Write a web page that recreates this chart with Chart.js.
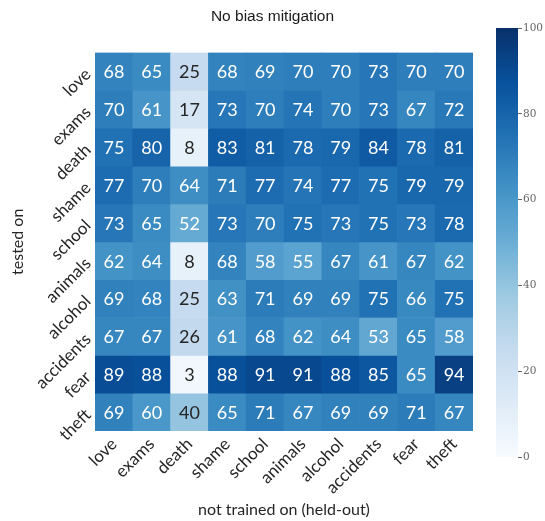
<!DOCTYPE html>
<html>
<head>
<meta charset="utf-8">
<script src="https://cdn.jsdelivr.net/npm/chart.js@4/dist/chart.umd.min.js"></script>
<style>
  html, body { margin: 0; padding: 0; background: #fff; }
  #wrap { position: relative; width: 545px; height: 521px; }
  #heat { position: absolute; left: 0; top: 0; }
  #cbar { position: absolute; left: 488px; top: 0; }
</style>
</head>
<body>
<div id="wrap">
  <canvas id="heat" width="545" height="521"></canvas>
  <canvas id="cbar" width="57" height="521"></canvas>
</div>
<script>
// Topics left out of training (columns) and topics tested on (rows)
const heldOut  = ['love', 'exams', 'death', 'shame', 'school', 'animals', 'alcohol', 'accidents', 'fear', 'theft'];
const testedOn = ['love', 'exams', 'death', 'shame', 'school', 'animals', 'alcohol', 'accidents', 'fear', 'theft'];

// Accuracy (%) per tested-on row, one value per held-out column
const rowLove      = [68, 65, 25, 68, 69, 70, 70, 73, 70, 70];
const rowExams     = [70, 61, 17, 73, 70, 74, 70, 73, 67, 72];
const rowDeath     = [75, 80,  8, 83, 81, 78, 79, 84, 78, 81];
const rowShame     = [77, 70, 64, 71, 77, 74, 77, 75, 79, 79];
const rowSchool    = [73, 65, 52, 73, 70, 75, 73, 75, 73, 78];
const rowAnimals   = [62, 64,  8, 68, 58, 55, 67, 61, 67, 62];
const rowAlcohol   = [69, 68, 25, 63, 71, 69, 69, 75, 66, 75];
const rowAccidents = [67, 67, 26, 61, 68, 62, 64, 53, 65, 58];
const rowFear      = [89, 88,  3, 88, 91, 91, 88, 85, 65, 94];
const rowTheft     = [69, 60, 40, 65, 71, 67, 69, 69, 71, 67];

const rows = [rowLove, rowExams, rowDeath, rowShame, rowSchool,
              rowAnimals, rowAlcohol, rowAccidents, rowFear, rowTheft];

// Colour scale range and colorbar ticks
const vmin = 0, vmax = 100;
const cbarTicks = [0, 20, 40, 60, 80, 100];

// "Blues" sequential colormap anchors
const BLUES = ['#f7fbff', '#deebf7', '#c6dbef', '#9ecae1', '#6baed6',
               '#4292c6', '#2171b5', '#08519c', '#08306b'];

function hexToRgb(h) {
  const n = parseInt(h.slice(1), 16);
  return [(n >> 16) & 255, (n >> 8) & 255, n & 255];
}
function bluesRgb(t) {
  t = Math.min(1, Math.max(0, t));
  const p = t * (BLUES.length - 1);
  const i = Math.min(BLUES.length - 2, Math.floor(p));
  const f = p - i;
  const a = hexToRgb(BLUES[i]), b = hexToRgb(BLUES[i + 1]);
  return a.map((c, k) => Math.round(c + (b[k] - c) * f));
}
function colorFor(v) {
  const [r, g, b] = bluesRgb((v - vmin) / (vmax - vmin));
  return `rgb(${r},${g},${b})`;
}
function textColorFor(v) {
  const lin = bluesRgb((v - vmin) / (vmax - vmin)).map(c => {
    c /= 255;
    return c <= 0.03928 ? c / 12.92 : Math.pow((c + 0.055) / 1.055, 2.4);
  });
  const lum = 0.2126 * lin[0] + 0.7152 * lin[1] + 0.0722 * lin[2];
  return lum > 0.408 ? '#262626' : '#ffffff';
}

const LABEL_FONT = 'Lato, "DejaVu Sans", sans-serif';

// Writes each cell's value at the centre of its bar element
const cellLabels = {
  id: 'cellLabels',
  afterDatasetsDraw(chart) {
    const ctx = chart.ctx;
    ctx.save();
    ctx.font = `18px ${LABEL_FONT}`;
    ctx.textAlign = 'center';
    ctx.textBaseline = 'middle';
    chart.data.datasets.forEach((ds, di) => {
      chart.getDatasetMeta(di).data.forEach((el, i) => {
        const v = ds.values[i];
        const c = el.getCenterPoint();
        ctx.fillStyle = textColorFor(v);
        ctx.fillText(String(v), c.x, c.y + 1);
      });
    });
    ctx.restore();
  }
};

// Heatmap: one row of floating bars per tested-on topic
new Chart(document.getElementById('heat'), {
  type: 'bar',
  data: {
    labels: heldOut,
    datasets: rows.map((vals, r) => ({
      label: testedOn[r],
      values: vals,
      data: vals.map(() => [r, r + 1]),
      backgroundColor: vals.map(colorFor),
      borderWidth: 0,
      grouped: false,
      barPercentage: 1,
      categoryPercentage: 1
    }))
  },
  options: {
    responsive: false,
    devicePixelRatio: 1,
    animation: false,
    layout: { padding: 0 },
    plugins: {
      legend: { display: false },
      tooltip: { enabled: false },
      title: {
        display: true,
        text: 'No bias mitigation',
        color: '#1a1a1a',
        font: { family: '"Liberation Sans", Arial, sans-serif', size: 15.5, weight: 'normal' },
        padding: { top: 7, bottom: 27 }
      }
    },
    scales: {
      x: {
        type: 'category',
        grid: { display: false, drawTicks: false },
        border: { display: false },
        ticks: {
          minRotation: 45, maxRotation: 45,
          autoSkip: false,
          padding: 3,
          color: '#262626',
          font: { family: LABEL_FONT, size: 17 }
        },
        title: {
          display: true,
          text: 'not trained on (held-out)',
          color: '#262626',
          font: { family: LABEL_FONT, size: 16 },
          padding: { top: 0, bottom: 2 }
        },
        afterFit: s => { s.height = 90; }
      },
      y: {
        type: 'linear',
        min: 0, max: 10,
        reverse: true,
        grid: { display: false, drawTicks: false },
        border: { display: false },
        afterBuildTicks: s => { s.ticks = testedOn.map((_, i) => ({ value: i + 0.5 })); },
        ticks: {
          minRotation: 45, maxRotation: 45,
          autoSkip: false,
          padding: 7,
          color: '#262626',
          font: { family: LABEL_FONT, size: 17 },
          callback: (v, i) => testedOn[i]
        },
        title: {
          display: true,
          text: 'tested on',
          color: '#262626',
          font: { family: LABEL_FONT, size: 16 },
          padding: { top: 8, bottom: 0 }
        },
        afterFit: s => { s.width = 95; }
      },
      // empty right-hand space reserved for the colorbar
      yRight: {
        type: 'linear',
        position: 'right',
        min: 0, max: 1,
        grid: { display: false, drawTicks: false },
        border: { display: false },
        ticks: { display: false },
        afterFit: s => { s.width = 72; }
      }
    }
  },
  plugins: [cellLabels]
});

// Colorbar: a single floating bar spanning vmin..vmax with a Blues gradient
new Chart(document.getElementById('cbar'), {
  type: 'bar',
  data: {
    labels: [''],
    datasets: [{
      data: [[vmin, vmax]],
      borderWidth: 0,
      barPercentage: 1,
      categoryPercentage: 1,
      backgroundColor: (c) => {
        const chart = c.chart;
        const ys = chart.scales.y;
        if (!chart.chartArea || !ys) return BLUES[4];
        const g = chart.ctx.createLinearGradient(0, ys.getPixelForValue(vmin), 0, ys.getPixelForValue(vmax));
        BLUES.forEach((col, i) => g.addColorStop(i / (BLUES.length - 1), col));
        return g;
      }
    }]
  },
  options: {
    responsive: false,
    devicePixelRatio: 1,
    animation: false,
    layout: { padding: { left: 8, top: 28, bottom: 64, right: 0 } },
    plugins: { legend: { display: false }, tooltip: { enabled: false } },
    scales: {
      x: { display: false },
      y: {
        type: 'linear',
        position: 'right',
        min: vmin, max: vmax,
        afterBuildTicks: s => { s.ticks = cbarTicks.map(v => ({ value: v })); },
        grid: { drawOnChartArea: false, drawTicks: true, tickLength: 4, color: '#666' },
        border: { display: false },
        ticks: {
          padding: 1,
          color: '#666',
          font: { family: '"DejaVu Serif", "Liberation Serif", serif', size: 10.5 }
        },
        afterFit: s => { s.width = 27; }
      }
    }
  }
});
</script>
</body>
</html>
